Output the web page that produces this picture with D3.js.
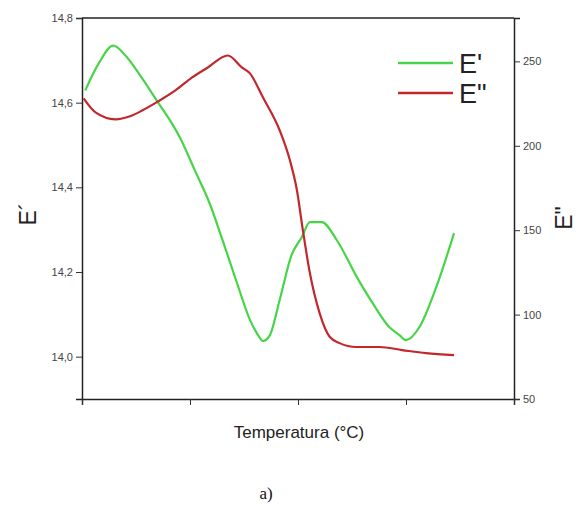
<!DOCTYPE html>
<html>
<head>
<meta charset="utf-8">
<script src="https://cdn.jsdelivr.net/npm/d3@7"></script>
<style>
  body { margin: 0; background: #fff; }
  svg text { font-family: "Liberation Sans", Arial, sans-serif; }
</style>
</head>
<body>
<div id="chart"></div>
<script>
// temperature positions (arbitrary units, axis carries no labels)
var tempE1 = [0.06, 0.32, 0.58, 0.80, 1.08, 1.41, 1.63, 1.82, 2.09, 2.37, 2.59, 2.87, 3.11, 3.26, 3.35, 3.48,
              3.66, 3.88, 4.07, 4.22, 4.44, 4.72, 5.09, 5.38, 5.69, 5.88, 6.00, 6.25, 6.56, 6.89];
var valE1 = [14.629, 14.695, 14.735, 14.712, 14.664, 14.60, 14.558, 14.516, 14.44, 14.36, 14.28, 14.174,
             14.087, 14.051, 14.037, 14.051, 14.134, 14.24, 14.282, 14.318, 14.318, 14.275, 14.188, 14.127,
             14.070, 14.051, 14.039, 14.070, 14.164, 14.292];

var tempE2 = [0.03, 0.25, 0.62, 0.89, 1.12, 1.41, 1.73, 2.04, 2.33, 2.70, 2.96, 3.11, 3.35, 3.66, 3.85,
              3.98, 4.09, 4.22, 4.40, 4.59, 4.77, 5.08, 5.51, 5.93, 6.37, 6.89];
var valE2 = [228.1, 219.8, 215.7, 217.5, 221.0, 226.3, 232.8, 240.5, 246.4, 253.5, 246.4, 242.9, 228.7,
             209.2, 191.4, 173.7, 150.0, 124.6, 100.9, 86.7, 83.1, 80.8, 80.8, 79.0, 77.2, 76.0];

var leftTicks = [14.0, 14.2, 14.4, 14.6, 14.8];
var rightTicks = [50, 100, 150, 200, 250];
var seriesNames = ["E'", "E\""];
var seriesColors = ["#48d448", "#c1272d"];

var width = 581, height = 515;
var margin = {top: 18, right: 67, bottom: 116, left: 82};

var svg = d3.select("#chart").append("svg")
    .attr("width", width)
    .attr("height", height);

var x = d3.scaleLinear().domain([0, 8]).range([margin.left, width - margin.right]);
var yL = d3.scaleLinear().domain([13.9, 14.8]).range([height - margin.bottom, margin.top]);
var yR = d3.scaleLinear().domain([50, 275.7]).range([height - margin.bottom, margin.top]);

var fmt = function (d) { return d3.format(".1f")(d).replace(".", ","); };

// left axis
var gL = svg.append("g").attr("transform", "translate(" + margin.left + ",0)");
gL.call(d3.axisLeft(yL).tickValues(d3.range(13.9, 14.85, 0.1)).tickSize(3).tickFormat(""));
gL.call(d3.axisLeft(yL).tickValues(leftTicks).tickSize(6).tickFormat(fmt).tickPadding(3));

// right axis
var gR = svg.append("g").attr("transform", "translate(" + (width - margin.right) + ",0)");
gR.call(d3.axisRight(yR).tickValues([75, 125, 175, 225]).tickSize(3).tickFormat(""));
gR.call(d3.axisRight(yR).tickValues(rightTicks).tickSize(6).tickPadding(3));

// bottom axis
var gB = svg.append("g").attr("transform", "translate(0," + (height - margin.bottom) + ")");
gB.call(d3.axisBottom(x).tickValues([1, 3, 5, 7]).tickSize(3).tickFormat(""));
gB.call(d3.axisBottom(x).tickValues([0, 2, 4, 6, 8]).tickSize(6).tickFormat(""));

// top frame
svg.append("line")
    .attr("x1", margin.left).attr("x2", width - margin.right)
    .attr("y1", margin.top).attr("y2", margin.top)
    .attr("stroke", "#222").attr("stroke-width", 1.5);

svg.selectAll(".domain").attr("stroke", "#222").attr("stroke-width", 1.5);
svg.selectAll(".tick line").attr("stroke", "#333");
svg.selectAll(".tick text").attr("fill", "#444").style("font-size", "11px");

// lines
var lineL = d3.line()
    .x(function (d) { return x(d[0]); })
    .y(function (d) { return yL(d[1]); })
    .curve(d3.curveMonotoneX);
var lineR = d3.line()
    .x(function (d) { return x(d[0]); })
    .y(function (d) { return yR(d[1]); })
    .curve(d3.curveMonotoneX);

svg.append("path")
    .datum(d3.zip(tempE1, valE1))
    .attr("d", lineL)
    .attr("fill", "none")
    .attr("stroke", seriesColors[0])
    .attr("stroke-width", 2.2);

svg.append("path")
    .datum(d3.zip(tempE2, valE2))
    .attr("d", lineR)
    .attr("fill", "none")
    .attr("stroke", seriesColors[1])
    .attr("stroke-width", 2.2);

// legend
var legend = svg.append("g");
seriesNames.forEach(function (name, i) {
    var ly = 63 + i * 30;
    legend.append("line")
        .attr("x1", 398).attr("x2", 453)
        .attr("y1", ly).attr("y2", ly)
        .attr("stroke", seriesColors[i]).attr("stroke-width", 2.5);
    legend.append("text")
        .attr("x", 459).attr("y", ly + 10)
        .style("font-size", "27px")
        .attr("fill", "#222")
        .text(name);
});

// axis titles
svg.append("text")
    .attr("x", (margin.left + width - margin.right) / 2 + 1)
    .attr("y", 438)
    .attr("text-anchor", "middle")
    .style("font-size", "17px")
    .attr("fill", "#222")
    .text("Temperatura (°C)");

svg.append("text")
    .attr("transform", "translate(36,214) rotate(-90)")
    .attr("text-anchor", "middle")
    .style("font-size", "23px")
    .attr("fill", "#222")
    .text("E´");

svg.append("text")
    .attr("transform", "translate(572,218) rotate(-90)")
    .attr("text-anchor", "middle")
    .style("font-size", "23px")
    .attr("fill", "#222")
    .text("E\"");

svg.append("text")
    .attr("x", 266)
    .attr("y", 499)
    .attr("text-anchor", "middle")
    .style("font-family", "'Liberation Serif', serif")
    .style("font-size", "17px")
    .attr("fill", "#111")
    .text("a)");
</script>
</body>
</html>
